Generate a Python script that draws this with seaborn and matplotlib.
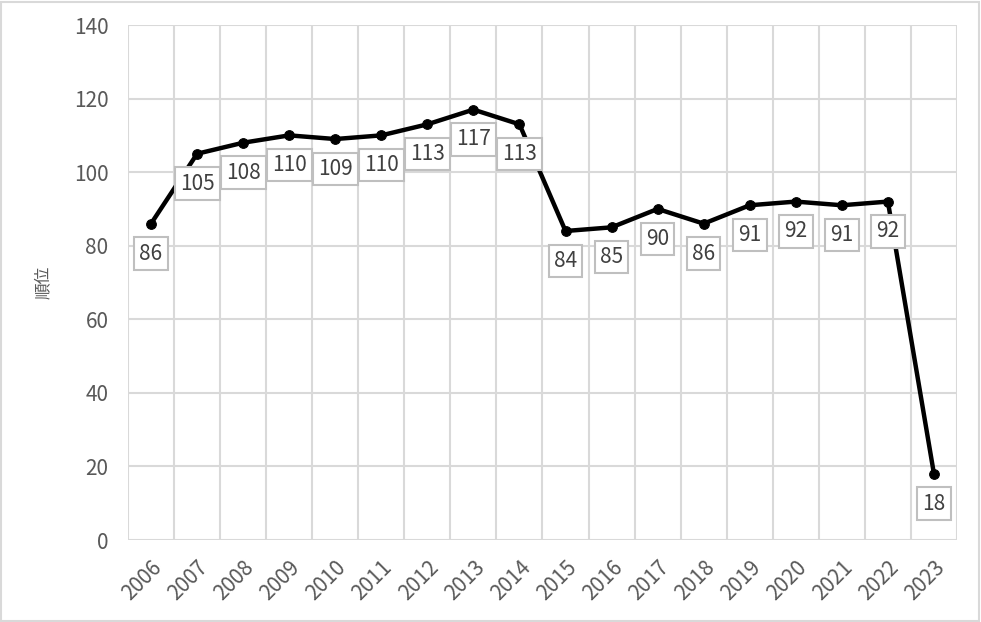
import matplotlib
matplotlib.use("Agg")
import matplotlib.pyplot as plt
import seaborn as sns
import pandas as pd
from matplotlib.patches import Rectangle

# data
years = [str(y) for y in range(2006, 2024)]
ranks = [86, 105, 108, 110, 109, 110, 113, 117, 113, 84, 85, 90, 86, 91, 92, 91, 92, 18]

sns.set_style("white")
plt.rcParams['font.family'] = ['Noto Sans CJK JP', 'DejaVu Sans']

df = pd.DataFrame({"year": years, "rank": ranks})

fig = plt.figure(figsize=(9.81, 6.22), dpi=100)
ax = fig.add_axes([0.1305, 0.1318, 0.845, 0.828])

sns.lineplot(data=df, x="year", y="rank", color="black", linewidth=3.2,
             marker="o", markersize=7, markeredgecolor="black", ax=ax)

# boxed value labels under each point
for i, v in enumerate(ranks):
    ax.annotate(str(v), (i, v), xytext=(0, -21.5), textcoords="offset points",
                ha="center", va="center", fontsize=15, color="#404040",
                bbox=dict(boxstyle="square,pad=0.25", fc="white", ec="#bfbfbf", lw=1.5),
                zorder=5)

ax.set_xlim(-0.5, len(years) - 0.5)
ax.set_ylim(0, 140)
ax.set_yticks(range(0, 141, 20))
ax.set_xticks(range(len(years)))
ax.set_xticklabels(years, rotation=45, ha="right", rotation_mode="anchor")
ax.set_xticks([i - 0.5 for i in range(len(years) + 1)], minor=True)

ax.grid(axis="y", which="major", color="#d9d9d9", linewidth=1.5)
ax.grid(axis="x", which="minor", color="#d9d9d9", linewidth=1.5)
ax.grid(axis="x", which="major", visible=False)
ax.set_axisbelow(True)

for s in ax.spines.values():
    s.set_visible(False)

ax.tick_params(axis="both", which="both", length=0, labelsize=15, colors="#595959")
ax.tick_params(axis="x", pad=12)
ax.tick_params(axis="y", pad=14)
ax.set_xlabel("")
ax.set_ylabel("順位", fontsize=12, color="#595959", labelpad=16)

# light border around the chart area
fig.patches.append(Rectangle((0.001, 0.002), 0.997, 0.995, transform=fig.transFigure,
                             fill=False, ec="#d9d9d9", lw=1.5))

fig.savefig("out.png", dpi=100)
